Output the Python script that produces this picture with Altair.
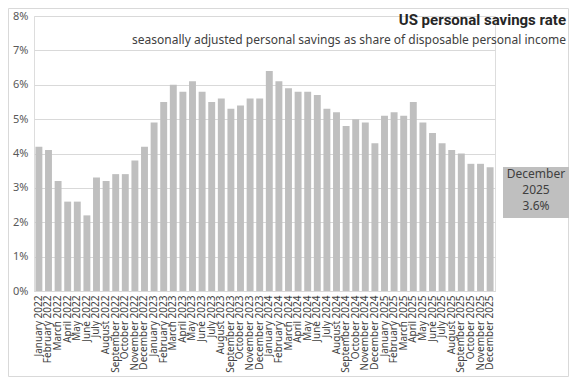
import altair as alt
import pandas as pd

months = ["January", "February", "March", "April", "May", "June", "July",
          "August", "September", "October", "November", "December"]
years = [2022, 2023, 2024, 2025]
rate_2022 = [4.2, 4.1, 3.2, 2.6, 2.6, 2.2, 3.3, 3.2, 3.4, 3.4, 3.8, 4.2]
rate_2023 = [4.9, 5.5, 6.0, 5.8, 6.1, 5.8, 5.5, 5.6, 5.3, 5.4, 5.6, 5.6]
rate_2024 = [6.4, 6.1, 5.9, 5.8, 5.8, 5.7, 5.3, 5.2, 4.8, 5.0, 4.9, 4.3]
rate_2025 = [5.1, 5.2, 5.1, 5.5, 4.9, 4.6, 4.3, 4.1, 4.0, 3.7, 3.7, 3.6]
y_ticks = [0, 0.01, 0.02, 0.03, 0.04, 0.05, 0.06, 0.07, 0.08]

title_text = "US personal  savings rate"
subtitle_text = "seasonally adjusted personal savings as share of disposable personal income"

labels = [f"{m} {y}" for y in years for m in months]
rates = rate_2022 + rate_2023 + rate_2024 + rate_2025
df = pd.DataFrame({"month": labels, "rate": [r / 100 for r in rates]})

W, H = 461, 275
PL, PT, PR, PB = 26, 8, 74, 86
FONT = "Noto Sans"

base = alt.Chart(df)

bars = base.mark_bar(color="#bfbfbf").encode(
    x=alt.X("month:N", sort=labels,
            scale=alt.Scale(paddingInner=0.28, paddingOuter=0.15),
            axis=alt.Axis(title=None, labelAngle=-90, labelFontSize=10,
                          labelColor="#404040", ticks=False,
                          domainColor="#d9d9d9", labelPadding=4,
                          labelFont=FONT, labelOverlap=False)),
    y=alt.Y("rate:Q", scale=alt.Scale(domain=[0, 0.08], nice=False),
            axis=alt.Axis(title=None, format=".0%", values=y_ticks,
                          ticks=False, domain=False, gridColor="#d9d9d9",
                          labelFontSize=11, labelColor="#595959",
                          labelPadding=6, labelFont=FONT)),
)

one = alt.Chart(pd.DataFrame({"k": [0]}))

frame = one.mark_rect(fillOpacity=0, stroke="#d9d9d9", strokeWidth=1).encode(
    x=alt.value(-PL + 0.5), x2=alt.value(W + PR - 0.5),
    y=alt.value(-PT + 0.5), y2=alt.value(H + PB - 0.5))

title = one.mark_text(align="right", baseline="alphabetic", fontSize=15,
                      fontWeight="bold", font="Roboto", color="#262626").encode(
    x=alt.value(W + PR - 3), y=alt.value(9), text=alt.value(title_text))

subtitle = one.mark_text(align="right", baseline="alphabetic", fontSize=12,
                         font=FONT, color="#404040").encode(
    x=alt.value(W + PR - 3), y=alt.value(28), text=alt.value(subtitle_text))

box = one.mark_rect(color="#bfbfbf").encode(
    x=alt.value(W + PR - 66), x2=alt.value(W + PR),
    y=alt.value(151), y2=alt.value(202))

ann_text = f"{months[-1]}\n{years[-1]}\n{rates[-1]:.1f}%"
ann = one.mark_text(align="center", baseline="top", fontSize=12,
                    lineBreak="\n", lineHeight=16, font=FONT,
                    color="#404040").encode(
    x=alt.value(W + PR - 33), y=alt.value(153), text=alt.value(ann_text))

chart = alt.layer(bars, frame, title, subtitle, box, ann).properties(
    width=W, height=H,
    autosize=alt.AutoSizeParams(type="none"),
    padding={"left": PL, "top": PT, "right": PR, "bottom": PB},
).configure_view(stroke=None).configure(background="white")

chart.save("out.html", embed_options={"renderer": "svg", "actions": False})
